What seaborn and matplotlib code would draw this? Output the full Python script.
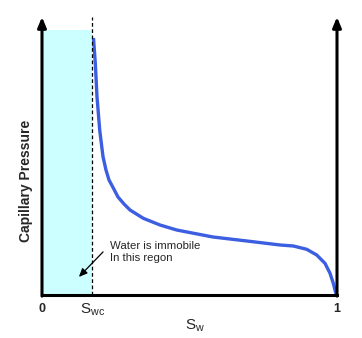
import matplotlib
matplotlib.use("Agg")
import matplotlib.pyplot as plt
import seaborn as sns
import pandas as pd

# Data (Sw fraction, normalized capillary pressure)
sw = [0.1746, 0.1807, 0.1864, 0.1956, 0.2068, 0.2169, 0.2271, 0.2417, 0.2576,
      0.2780, 0.2983, 0.3434, 0.4000, 0.4566, 0.5356, 0.5797, 0.6949, 0.8068,
      0.8519, 0.8973, 0.9312, 0.9593, 0.9763, 0.9875, 0.9949, 0.9983]
pc = [0.9245, 0.8335, 0.7133, 0.5935, 0.4975, 0.4496, 0.4137, 0.3849, 0.3525,
      0.3273, 0.3058, 0.2759, 0.2518, 0.2338, 0.2176, 0.2086, 0.1942, 0.1799,
      0.1763, 0.1644, 0.1439, 0.1140, 0.0781, 0.0421, 0.0108, 0.0]
swc = 0.17
immobile_top = 0.953
tick_pos = [0.0, swc, 1.0]
tick_labels = ["0", r"$\mathregular{S_{wc}}$", "1"]

sns.set_style("white")
plt.rcParams['font.family'] = ['Liberation Sans', 'DejaVu Sans']

fig = plt.figure(figsize=(3.62, 3.38), dpi=100)
ax = fig.add_axes([42/362, 1 - 295/338, 295/362, 278/338])

df = pd.DataFrame({"Sw": sw, "Pc": pc})
ax.fill_between([0, swc], 0, immobile_top, color="#ccffff", zorder=0, linewidth=0)
sns.lineplot(data=df, x="Sw", y="Pc", sort=False, color="#3c5ee0", linewidth=2.4,
             ax=ax, solid_joinstyle="round", solid_capstyle="butt")
ax.plot([swc, swc], [0, 1], color="black", linestyle=(0, (3, 2)), linewidth=0.9)

ax.set_xlim(0, 1)
ax.set_ylim(0, 1)
for s in ["top", "left", "right"]:
    ax.spines[s].set_visible(False)
ax.spines["bottom"].set_linewidth(2.2)
ax.spines["bottom"].set_color("black")

for xv in [0, 1]:
    ax.annotate("", xy=(xv, 1.0), xytext=(xv, -0.004), xycoords="axes fraction",
                arrowprops=dict(arrowstyle="-|>,head_length=0.6,head_width=0.25",
                                color="black", lw=2.2, shrinkA=0, shrinkB=0),
                annotation_clip=False)

ax.set_xticks([])
ax.set_yticks([])
ax.set_xlabel("")
ax.set_ylabel("")

# tick-like labels
ax.text(0.0, -0.03, tick_labels[0], ha="center", va="top", fontsize=9,
        fontweight="bold", transform=ax.transAxes)
ax.text(1.0, -0.03, tick_labels[2], ha="center", va="top", fontsize=9,
        fontweight="bold", transform=ax.transAxes)
ax.text(swc, -0.025, tick_labels[1], ha="center", va="top", fontsize=11,
        transform=ax.transAxes)
ax.text(0.52, -0.08, r"$\mathregular{S_{w}}$", ha="center", va="top", fontsize=11,
        transform=ax.transAxes)
fig.text(26/362, 1 - 181/338, "Capillary Pressure", rotation=90, ha="center",
         va="center", fontsize=10, fontweight="bold")

ax.text(0.231, 0.155, "Water is immobile\nIn this regon", fontsize=8.2,
        ha="left", va="center", linespacing=1.2)
ax.annotate("", xy=(0.125, 0.065), xytext=(0.207, 0.155),
            arrowprops=dict(arrowstyle="-|>,head_length=0.5,head_width=0.22",
                            color="black", lw=0.9, shrinkA=0, shrinkB=0))

fig.savefig("out.png", dpi=100)
